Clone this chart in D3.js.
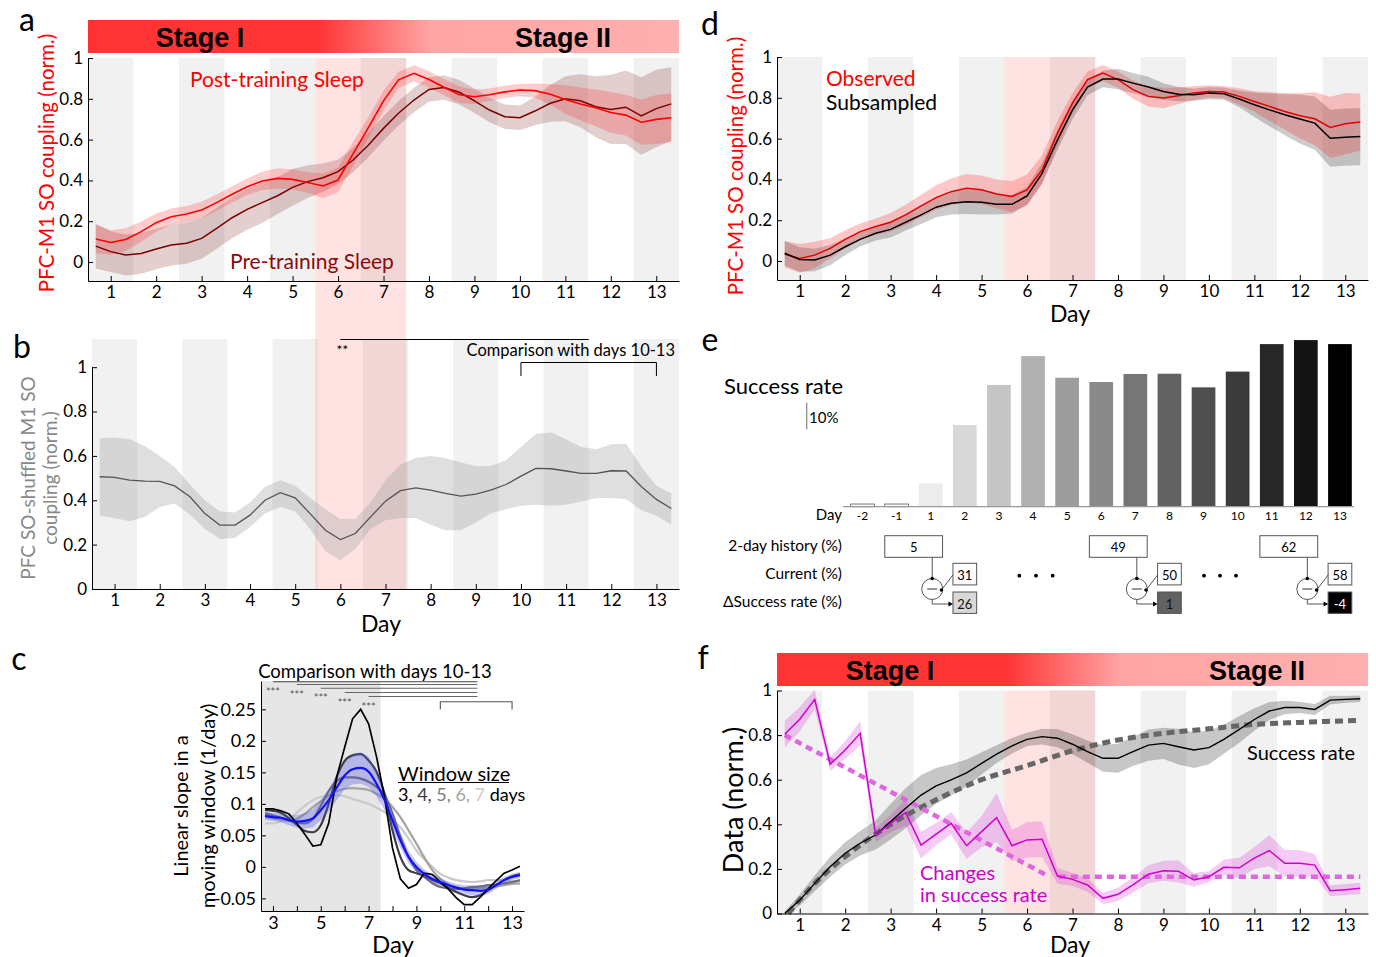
<!DOCTYPE html>
<html><head><meta charset="utf-8">
<script src="https://cdn.jsdelivr.net/npm/d3@7"></script>
<style>body{margin:0;background:#fff}svg{display:block}</style>
</head><body>
<svg id="fig" width="1376" height="957"></svg>
<script>
// ---------------- DATA ----------------
const dayGrid = [0.67,1,1.33,1.67,2,2.33,2.67,3,3.33,3.67,4,4.33,4.67,5,5.33,5.67,6,6.33,6.67,7,7.33,7.67,8,8.33,8.67,9,9.33,9.67,10,10.33,10.67,11,11.33,11.67,12,12.33,12.67,13,13.33];
const dayTicks = [1,2,3,4,5,6,7,8,9,10,11,12,13];
const shadedDays = [1,3,5,7,9,11,13];
const couplingTicks = [0,0.2,0.4,0.6,0.8,1];

// panel a
const aPost = [0.113,0.096,0.11,0.149,0.193,0.222,0.235,0.255,0.291,0.332,0.369,0.397,0.41,0.405,0.39,0.373,0.402,0.53,0.66,0.79,0.893,0.925,0.895,0.857,0.82,0.81,0.82,0.834,0.843,0.84,0.822,0.797,0.775,0.756,0.733,0.72,0.685,0.699,0.707];
const aPostErr = [0.07,0.06,0.055,0.05,0.045,0.04,0.04,0.04,0.04,0.04,0.04,0.045,0.05,0.05,0.05,0.06,0.06,0.06,0.05,0.05,0.04,0.04,0.04,0.04,0.04,0.035,0.03,0.03,0.03,0.035,0.05,0.07,0.08,0.09,0.1,0.1,0.11,0.12,0.12];
const aPre = [0.078,0.051,0.034,0.042,0.064,0.083,0.092,0.116,0.165,0.217,0.258,0.291,0.325,0.366,0.394,0.413,0.443,0.50,0.574,0.655,0.729,0.794,0.846,0.855,0.832,0.79,0.745,0.712,0.707,0.74,0.778,0.8,0.79,0.761,0.748,0.759,0.716,0.752,0.775];
const aPreErr = [0.11,0.1,0.1,0.1,0.1,0.1,0.1,0.1,0.1,0.1,0.1,0.1,0.09,0.09,0.08,0.07,0.06,0.06,0.06,0.06,0.06,0.06,0.06,0.06,0.06,0.06,0.06,0.06,0.06,0.07,0.09,0.11,0.13,0.15,0.17,0.18,0.19,0.19,0.18];

// panel b
const bMean = [0.506,0.503,0.491,0.486,0.485,0.465,0.416,0.34,0.288,0.288,0.333,0.40,0.434,0.411,0.34,0.265,0.223,0.25,0.325,0.396,0.443,0.456,0.446,0.431,0.419,0.428,0.446,0.471,0.509,0.544,0.542,0.532,0.521,0.521,0.533,0.532,0.461,0.404,0.363];
const bHi = [0.68,0.683,0.675,0.645,0.60,0.55,0.47,0.40,0.35,0.345,0.39,0.46,0.49,0.465,0.41,0.36,0.315,0.315,0.39,0.49,0.56,0.59,0.60,0.59,0.57,0.555,0.555,0.58,0.64,0.70,0.705,0.675,0.64,0.63,0.652,0.655,0.55,0.465,0.43];
const bLo = [0.33,0.32,0.305,0.325,0.37,0.385,0.335,0.27,0.225,0.23,0.28,0.34,0.37,0.35,0.27,0.17,0.13,0.18,0.27,0.31,0.32,0.32,0.29,0.265,0.265,0.30,0.34,0.36,0.375,0.38,0.375,0.38,0.395,0.41,0.41,0.405,0.355,0.33,0.29];

// panel c
const cDays = [2.67,3,3.33,3.67,4,4.33,4.67,5,5.33,5.67,6,6.33,6.67,7,7.33,7.67,8,8.33,8.67,9,9.33,9.67,10,10.33,10.67,11,11.33,11.67,12,12.33,12.67,13,13.33];
const cWin3 = [0.092,0.092,0.089,0.084,0.069,0.052,0.033,0.035,0.069,0.143,0.19,0.235,0.25,0.227,0.175,0.11,0.03,-0.019,-0.034,-0.028,-0.01,-0.012,-0.024,-0.035,-0.049,-0.06,-0.06,-0.048,-0.035,-0.022,-0.01,-0.005,0.001];
const cWin4 = [0.09,0.089,0.086,0.077,0.067,0.057,0.055,0.066,0.1,0.143,0.168,0.177,0.179,0.169,0.151,0.116,0.058,0.016,-0.005,-0.01,-0.014,-0.021,-0.026,-0.033,-0.04,-0.045,-0.048,-0.045,-0.037,-0.029,-0.021,-0.015,-0.012];
const cWin5 = [0.085,0.082,0.078,0.074,0.07,0.069,0.076,0.097,0.12,0.136,0.142,0.142,0.14,0.135,0.127,0.114,0.085,0.048,0.016,-0.005,-0.016,-0.026,-0.032,-0.034,-0.035,-0.034,-0.032,-0.031,-0.029,-0.028,-0.026,-0.024,-0.021];
const cWin6 = [0.079,0.077,0.075,0.073,0.076,0.084,0.095,0.104,0.113,0.12,0.124,0.125,0.124,0.122,0.116,0.108,0.095,0.079,0.058,0.037,0.015,-0.005,-0.019,-0.027,-0.032,-0.034,-0.034,-0.034,-0.033,-0.031,-0.029,-0.027,-0.026];
const cWin7 = [0.069,0.069,0.072,0.077,0.086,0.097,0.106,0.111,0.113,0.114,0.112,0.108,0.104,0.1,0.094,0.087,0.076,0.063,0.045,0.026,0.012,0.0,-0.011,-0.017,-0.021,-0.023,-0.024,-0.023,-0.021,-0.021,-0.021,-0.022,-0.023];
const cMean = [0.081,0.079,0.078,0.074,0.072,0.073,0.077,0.09,0.106,0.126,0.145,0.155,0.157,0.151,0.132,0.106,0.074,0.042,0.016,0.0,-0.011,-0.019,-0.024,-0.029,-0.033,-0.036,-0.037,-0.038,-0.036,-0.029,-0.021,-0.016,-0.013];
const cErr = [0.006,0.006,0.007,0.008,0.01,0.012,0.014,0.016,0.018,0.02,0.022,0.024,0.025,0.024,0.02,0.016,0.014,0.012,0.01,0.008,0.007,0.006,0.006,0.006,0.006,0.007,0.008,0.008,0.007,0.006,0.005,0.005,0.005];
const cWindowSizes = [3,4,5,6,7];
const cTicksY = [-0.05,0,0.05,0.1,0.15,0.2,0.25];
const cStarDays = [3,4,5,6,7];

// panel d
const dObs = [0.033,0.013,0.029,0.062,0.106,0.144,0.169,0.19,0.226,0.27,0.311,0.34,0.357,0.349,0.329,0.316,0.349,0.447,0.627,0.774,0.889,0.921,0.889,0.84,0.807,0.799,0.81,0.823,0.831,0.828,0.807,0.782,0.758,0.733,0.712,0.697,0.655,0.673,0.681];
const dObsErr = [0.065,0.07,0.065,0.05,0.045,0.04,0.04,0.045,0.05,0.055,0.06,0.065,0.07,0.07,0.07,0.075,0.075,0.07,0.06,0.05,0.04,0.04,0.04,0.045,0.05,0.05,0.04,0.035,0.03,0.03,0.04,0.05,0.07,0.09,0.11,0.13,0.15,0.15,0.14];
const dSub = [0.038,0.008,0.005,0.029,0.07,0.106,0.136,0.155,0.19,0.226,0.264,0.283,0.291,0.288,0.278,0.278,0.319,0.43,0.594,0.741,0.853,0.892,0.892,0.872,0.853,0.831,0.818,0.815,0.823,0.82,0.794,0.766,0.741,0.717,0.696,0.676,0.602,0.607,0.61];
const dSubErr = [0.06,0.06,0.055,0.05,0.04,0.035,0.035,0.04,0.04,0.045,0.05,0.055,0.06,0.06,0.05,0.045,0.045,0.05,0.05,0.045,0.04,0.04,0.05,0.05,0.05,0.04,0.035,0.03,0.03,0.03,0.04,0.06,0.08,0.1,0.12,0.13,0.14,0.14,0.14];

// panel e
const eDays = ['-2','-1','1','2','3','4','5','6','7','8','9','10','11','12','13'];
const eRates = [1.0,1.0,8.7,30.6,45.6,56.4,48.3,46.7,49.7,49.8,44.7,50.6,60.9,62.4,60.9];
const eRowLabels = ['2-day history (%)','Current (%)','\u0394Success rate (%)'];
const eHistDays = [['-1','1'],['6','7'],['11','12']];
const eCurDays = ['2','8','13'];
const eHistVals = [5,49,62];
const eCurVals = [31,50,58];
const eDeltaVals = [26,1,-4];

// panel f
const fSuccess = [0.0,0.06,0.135,0.21,0.27,0.315,0.352,0.412,0.472,0.531,0.572,0.599,0.631,0.673,0.715,0.752,0.781,0.793,0.786,0.759,0.726,0.696,0.696,0.726,0.755,0.763,0.748,0.733,0.744,0.781,0.826,0.87,0.908,0.924,0.924,0.915,0.957,0.96,0.963];
const fSuccessErr = [0.01,0.025,0.035,0.045,0.05,0.055,0.065,0.08,0.09,0.09,0.08,0.07,0.06,0.05,0.04,0.035,0.03,0.035,0.04,0.045,0.05,0.06,0.065,0.065,0.07,0.07,0.08,0.08,0.075,0.065,0.06,0.05,0.04,0.03,0.025,0.025,0.02,0.015,0.015];
const fChange = [0.804,0.871,0.96,0.669,0.733,0.808,0.352,0.404,0.452,0.307,0.356,0.404,0.304,0.367,0.43,0.304,0.33,0.333,0.168,0.153,0.128,0.068,0.086,0.128,0.176,0.192,0.189,0.15,0.165,0.207,0.205,0.248,0.282,0.225,0.225,0.217,0.102,0.107,0.113];
const fChangeErr = [0.06,0.055,0.045,0.03,0.04,0.055,0.03,0.04,0.06,0.06,0.05,0.05,0.06,0.07,0.11,0.07,0.08,0.08,0.035,0.03,0.03,0.025,0.03,0.035,0.04,0.045,0.05,0.03,0.025,0.035,0.045,0.05,0.07,0.06,0.06,0.05,0.025,0.025,0.025];
const fFitDays = [0.75,1.33,2,3,4,5,6,7,8,9,10,11,12,13.33];
const fFitSuccess = [0.0,0.135,0.255,0.40,0.51,0.6,0.663,0.73,0.778,0.808,0.828,0.848,0.857,0.866];
const fFitChangeDays = [[0.67,6.4],[6.7,13.33]];
const fFitChangeVals = [[0.80,0.175],[0.165,0.165]];

// ---------------- DRAW ----------------
const FONT = 'Lato, "Open Sans", "DejaVu Sans", sans-serif';
const svg = d3.select('#fig').attr('font-family', FONT);
const defs = svg.append('defs');
const grad = defs.append('linearGradient').attr('id','stageGrad').attr('x1','0%').attr('x2','100%');
[['0%','#ff3333'],['39%','#ff3535'],['58%','#ffa4a4'],['100%','#ffb0b0']].forEach(s=>grad.append('stop').attr('offset',s[0]).attr('stop-color',s[1]));

function txt(g, x, y, s, o={}) {
  const t = g.append('text').attr('x',x).attr('y',y).text(s)
    .attr('font-size', o.size||16).attr('fill', o.color||'#000')
    .attr('text-anchor', o.anchor||'start').attr('dominant-baseline', o.base||'central');
  if (o.weight) t.attr('font-weight', o.weight);
  if (o.family) t.attr('font-family', o.family);
  if (o.rotate) t.attr('transform', `rotate(-90,${x},${y})`);
  return t;
}
function drawBands(g, x, yTop, yBot, days, color) {
  g.selectAll(null).data(days).join('rect')
    .attr('x', d=>x(d-0.5)).attr('width', d=>x(d+0.5)-x(d-0.5))
    .attr('y', yTop).attr('height', yBot-yTop).attr('fill', color);
}
function drawArea(g, x, y, xs, lo, hi, fill, op) {
  const data = xs.map((d,i)=>({d, lo:lo[i], hi:hi[i]}));
  g.append('path').datum(data)
   .attr('d', d3.area().x(p=>x(p.d)).y0(p=>y(p.lo)).y1(p=>y(p.hi)))
   .attr('fill', fill).attr('fill-opacity', op).attr('stroke','none');
}
function drawLine(g, x, y, xs, vs, color, w, dash, curve) {
  const data = xs.map((d,i)=>({d, v:vs[i]}));
  const p = g.append('path').datum(data)
   .attr('d', d3.line().x(p=>x(p.d)).y(p=>y(p.v)).curve(curve||d3.curveLinear))
   .attr('fill','none').attr('stroke', color).attr('stroke-width', w);
  if (dash) p.attr('stroke-dasharray', dash);
  return p;
}
function styleAxis(sel, fs) {
  sel.attr('font-family', FONT);
  sel.selectAll('text').attr('font-size', fs).attr('fill','#000');
  sel.selectAll('line').attr('stroke','#000');
  sel.select('.domain').attr('stroke','#000');
}
function xAxis(g, x, yPos, ticks, fs, fmt) {
  const a = g.append('g').attr('transform',`translate(0,${yPos})`)
    .call(d3.axisBottom(x).tickValues(ticks).tickSize(-5).tickSizeOuter(0).tickPadding(5).tickFormat(fmt||(d=>d)));
  styleAxis(a, fs);
  return a;
}
function yAxis(g, y, xPos, ticks, fs) {
  const a = g.append('g').attr('transform',`translate(${xPos},0)`)
    .call(d3.axisLeft(y).tickValues(ticks).tickSize(-5).tickSizeOuter(0).tickPadding(5).tickFormat(d=>String(d)));
  styleAxis(a, fs);
  return a;
}
const lo = (m,e)=>m.map((v,i)=>v-e[i]);
const hi = (m,e)=>m.map((v,i)=>v+e[i]);
function stageBar(g, x0, x1, y0, y1, c1, c2) {
  g.append('rect').attr('x',x0).attr('y',y0).attr('width',x1-x0).attr('height',y1-y0).attr('fill','url(#stageGrad)');
  const fam = '"Liberation Sans", Arial, sans-serif';
  txt(g, c1, (y0+y1)/2+1, 'Stage I', {size:27, weight:'bold', anchor:'middle', family:fam});
  txt(g, c2, (y0+y1)/2+1, 'Stage II', {size:27, weight:'bold', anchor:'middle', family:fam});
}

// ===== Panel a + b =====
const gA = svg.append('g');
const ax = d3.scaleLinear().domain([0.5,13.5]).range([88,679]);
const ay = d3.scaleLinear().domain([-0.093,1]).range([281,58]);
const bx = d3.scaleLinear().domain([0.5,13.5]).range([92,679]);
const by = d3.scaleLinear().domain([0,1.127]).range([589,339]);
const byAxis = d3.scaleLinear().domain([0,1]).range([589, by(1)]);

drawBands(gA, ax, ay(1), ay.range()[0], shadedDays, '#f1f1f1');
drawBands(gA, bx, by(1.127), 589, shadedDays, '#f1f1f1');
gA.append('rect').attr('x', ax(5.5)).attr('width', ax(7.5)-ax(5.5)).attr('y', ay(1)).attr('height', 589-ay(1))
  .attr('fill','#ff0000').attr('fill-opacity',0.11);

stageBar(gA, 88, 679, 20, 53, 200, 563);
drawArea(gA, ax, ay, dayGrid, lo(aPre,aPreErr), hi(aPre,aPreErr), '#7a1010', 0.2);
drawArea(gA, ax, ay, dayGrid, lo(aPost,aPostErr), hi(aPost,aPostErr), '#ff1a1a', 0.22);
drawLine(gA, ax, ay, dayGrid, aPre, '#7a0000', 1.5);
drawLine(gA, ax, ay, dayGrid, aPost, '#ff0000', 1.6);
xAxis(gA, ax, 281, dayTicks, 17);
yAxis(gA, ay, 88, couplingTicks, 17);
txt(gA, 190, 78, 'Post-training Sleep', {size:21, color:'#ff0000'});
txt(gA, 230, 260, 'Pre-training Sleep', {size:21, color:'#8a0a0a'});
txt(gA, 46, 163, 'PFC-M1 SO coupling (norm.)', {size:20.5, color:'#ff0000', anchor:'middle', rotate:true});
txt(gA, 19, 18, 'a', {size:32});

// b
drawArea(gA, bx, by, dayGrid, bLo, bHi, '#9a9a9a', 0.32);
drawLine(gA, bx, by, dayGrid, bMean, '#555', 1.3);
xAxis(gA, bx, 589, dayTicks, 17);
yAxis(gA, byAxis, 92, couplingTicks, 17);
txt(gA, 27, 478, 'PFC SO-shuffled M1 SO', {size:19, color:'#888', anchor:'middle', rotate:true});
txt(gA, 49, 478, 'coupling (norm.)', {size:19, color:'#888', anchor:'middle', rotate:true});
txt(gA, 381, 623, 'Day', {size:23, anchor:'middle'});
txt(gA, 22, 345, 'b', {size:32, anchor:'middle'});
gA.append('line').attr('x1', bx(6)).attr('x2', bx(11.5)).attr('y1',339.5).attr('y2',339.5).attr('stroke','#000');
txt(gA, bx(6)+2, 349, '**', {size:14, anchor:'middle'});
txt(gA, 675, 350, 'Comparison with days 10-13', {size:16.5, anchor:'end'});
gA.append('path').attr('d', `M${bx(10)},376V362.5H${bx(13)}V376`).attr('fill','none').attr('stroke','#000');

// ===== Panel c =====
const gC = svg.append('g');
const cx = d3.scaleLinear().domain([2.5,13.5]).range([261,524]);
const cy = d3.scaleLinear().domain([-0.07,0.295]).range([911,681]);
gC.append('rect').attr('x', cx(2.5)).attr('y', cy(0.295)).attr('width', cx(7.5)-cx(2.5)).attr('height', cy(-0.07)-cy(0.295)).attr('fill','#e6e6e6');
const winColors = ['#000000','#3c3c3c','#6e6e6e','#a4a4a4','#cacaca'];
const winSeries = [cWin3,cWin4,cWin5,cWin6,cWin7];
for (let i=4;i>=1;i--) drawLine(gC, cx, cy, cDays, winSeries[i], winColors[i], 2.2, null, d3.curveMonotoneX);
drawArea(gC, cx, cy, cDays, lo(cMean,cErr), hi(cMean,cErr), '#5a5ae6', 0.35);
drawLine(gC, cx, cy, cDays, winSeries[0], winColors[0], 1.7);
drawLine(gC, cx, cy, cDays, cMean, '#1010ff', 2.2, null, d3.curveMonotoneX);
xAxis(gC, cx, 911, d3.range(3,14), 18, d=> d%2 ? d : '');
yAxis(gC, cy, 261, cTicksY, 18);
txt(gC, 375, 671, 'Comparison with days 10-13', {size:18.5, anchor:'middle'});
const cLineY = [681.7, 684.5, 688.3, 692.5, 696.5];
cStarDays.forEach((d,i)=>{
  gC.append('line').attr('x1', cx(d)).attr('x2', cx(11.55)).attr('y1', cLineY[i]).attr('y2', cLineY[i]).attr('stroke', i===0?'#444':'#666').attr('stroke-width',1.1);
  txt(gC, cx(d), cLineY[i]+9.5, '***', {size:11, color:'#555', anchor:'middle'});
});
gC.append('path').attr('d', `M${cx(10)},709.5V701.7H${cx(13)}V709.5`).attr('fill','none').attr('stroke','#555').attr('stroke-width',1.1);
txt(gC, 398, 773, 'Window size', {size:20});
gC.append('line').attr('x1',398).attr('x2',509).attr('y1',782.5).attr('y2',782.5).attr('stroke','#000').attr('stroke-width',1.2);
const wt = txt(gC, 398, 794, '', {size:18});
const legendCols = ['#000','#3c3c3c','#808080','#a8a8a8','#cccccc'];
cWindowSizes.forEach((w,i)=>{ wt.append('tspan').attr('fill', legendCols[i]).text(w + (i<4?', ':' ')); });
wt.append('tspan').attr('fill','#000').text('days');
txt(gC, 180, 806, 'Linear slope in a', {size:20, anchor:'middle', rotate:true});
txt(gC, 207, 806, 'moving window (1/day)', {size:20, anchor:'middle', rotate:true});
txt(gC, 393, 943, 'Day', {size:24, anchor:'middle'});
txt(gC, 19, 657, 'c', {size:32, anchor:'middle'});

// ===== Panel d =====
const gD = svg.append('g');
const dx = d3.scaleLinear().domain([0.5,13.5]).range([777,1368]);
const dy = d3.scaleLinear().domain([-0.093,1]).range([280,57]);
drawBands(gD, dx, dy(1), 280, shadedDays, '#f1f1f1');
gD.append('rect').attr('x', dx(5.5)).attr('width', dx(7.5)-dx(5.5)).attr('y', dy(1)).attr('height', 280-dy(1)).attr('fill','#ff0000').attr('fill-opacity',0.11);
drawArea(gD, dx, dy, dayGrid, lo(dSub,dSubErr), hi(dSub,dSubErr), '#000', 0.2);
drawArea(gD, dx, dy, dayGrid, lo(dObs,dObsErr), hi(dObs,dObsErr), '#ff1a1a', 0.24);
drawLine(gD, dx, dy, dayGrid, dObs, '#e00000', 1.5);
drawLine(gD, dx, dy, dayGrid, dSub, '#000', 1.5);
xAxis(gD, dx, 280, dayTicks, 17);
yAxis(gD, dy, 777, couplingTicks, 17);
txt(gD, 826, 77, 'Observed', {size:21, color:'#ff0000'});
txt(gD, 826, 101, 'Subsampled', {size:21});
txt(gD, 735, 166, 'PFC-M1 SO coupling (norm.)', {size:20.5, color:'#ff0000', anchor:'middle', rotate:true});
txt(gD, 1070, 313, 'Day', {size:23, anchor:'middle'});
txt(gD, 710, 22, 'd', {size:32, anchor:'middle'});

// ===== Panel e =====
const gE = svg.append('g');
const eX = d3.scaleBand().domain(eDays).range([845.45,1357]).paddingInner(0.305).paddingOuter(0.1525);
const eY = d3.scaleLinear().domain([0,100]).range([506.7, 506.7-267]);
const eGray = d => { const n=+d; if (n<0) return '#ffffff'; const g=Math.round(236*(13-n)/12); return `rgb(${g},${g},${g})`; };
gE.selectAll(null).data(eDays).join('rect')
  .attr('x', d=>eX(d)).attr('width', eX.bandwidth())
  .attr('y', (d,i)=>eY(eRates[i])).attr('height', (d,i)=>eY(0)-eY(eRates[i]))
  .attr('fill', d=>eGray(d)).attr('stroke', d=> +d<0 ? '#555' : 'none').attr('stroke-width',0.8);
gE.append('line').attr('x1',843).attr('x2',1354).attr('y1',eY(0)).attr('y2',eY(0)).attr('stroke','#999').attr('stroke-width',1.3);
gE.selectAll(null).data(eDays).join('text')
  .attr('x', d=>eX(d)+eX.bandwidth()/2).attr('y', 515).attr('text-anchor','middle').attr('dominant-baseline','central')
  .attr('font-size',12).text(d=>d);
txt(gE, 842, 514, 'Day', {size:15, anchor:'end'});
txt(gE, 843, 385, 'Success rate', {size:22, anchor:'end'});
gE.append('line').attr('x1',806.7).attr('x2',806.7).attr('y1',429.5).attr('y2',429.5-(eY(0)-eY(10))).attr('stroke','#888').attr('stroke-width',1.2);
txt(gE, 809, 417, '10%', {size:15});
txt(gE, 710, 338, 'e', {size:32, anchor:'middle'});
const rowY = [545, 573, 601];
eRowLabels.forEach((l,i)=>txt(gE, 842, rowY[i], l, {size:15.5, anchor:'end'}));
eHistDays.forEach((hd,k)=>{
  const hx0 = eX(hd[0]), hx1 = eX(hd[1])+eX.bandwidth();
  const cxb = eX(eCurDays[k]), bw = eX.bandwidth();
  gE.append('rect').attr('x',hx0).attr('y',535.7).attr('width',hx1-hx0).attr('height',21.6).attr('fill','#fff').attr('stroke','#555');
  txt(gE, (hx0+hx1)/2, 547, eHistVals[k], {size:13, anchor:'middle'});
  gE.append('rect').attr('x',cxb).attr('y',563.3).attr('width',bw).attr('height',21.6).attr('fill','#fff').attr('stroke','#555');
  txt(gE, cxb+bw/2, 575, eCurVals[k], {size:13, anchor:'middle'});
  const fillC = eGray(eCurDays[k]);
  gE.append('rect').attr('x',cxb).attr('y',592).attr('width',bw).attr('height',21.4).attr('fill',fillC).attr('stroke','#555');
  const lum = d3.rgb(fillC).r;
  txt(gE, cxb+bw/2, 603.5, eDeltaVals[k], {size:13, anchor:'middle', color: lum<40?'#fff':'#111'});
  const ccx = eX(hd[1])+bw/2+1.5, ccy = 589, r = 10.5;
  gE.append('line').attr('x1',ccx).attr('x2',ccx).attr('y1',557.3).attr('y2',ccy-r).attr('stroke','#555');
  gE.append('circle').attr('cx',ccx).attr('cy',ccy).attr('r',r).attr('fill','#fff').attr('stroke','#555');
  gE.append('circle').attr('cx',ccx).attr('cy',ccy-r).attr('r',1.8).attr('fill','#000');
  const px = ccx + r*Math.cos(-0.5), py = ccy - r*Math.sin(-0.5) - 4;
  gE.append('line').attr('x1',px).attr('y1',py).attr('x2',cxb).attr('y2',575).attr('stroke','#555');
  gE.append('circle').attr('cx',px).attr('cy',py).attr('r',1.8).attr('fill','#000');
  gE.append('line').attr('x1',ccx-5).attr('x2',ccx+5).attr('y1',ccy).attr('y2',ccy).attr('stroke','#333');
  gE.append('path').attr('d',`M${ccx},${ccy+r}V604H${cxb-4}`).attr('fill','none').attr('stroke','#555');
  gE.append('path').attr('d',`M${cxb},604l-4.5,-2.5v5z`).attr('fill','#000');
});
[[1019.3,1036,1052.7],[1204,1220,1236]].forEach(arr=>arr.forEach(x=>gE.append('circle').attr('cx',x).attr('cy',575.7).attr('r',1.9).attr('fill','#000')));

// ===== Panel f =====
const gF = svg.append('g');
const fx = d3.scaleLinear().domain([0.5,13.5]).range([777,1368]);
const fy = d3.scaleLinear().domain([0,1]).range([913.5,690.5]);
drawBands(gF, fx, fy(1), fy(0), shadedDays, '#f1f1f1');
gF.append('rect').attr('x', fx(5.5)).attr('width', fx(7.5)-fx(5.5)).attr('y', fy(1)).attr('height', fy(0)-fy(1)).attr('fill','#ff0000').attr('fill-opacity',0.11);
stageBar(gF, 777, 1368, 653, 686, 890, 1257);
drawArea(gF, fx, fy, dayGrid, lo(fSuccess,fSuccessErr), hi(fSuccess,fSuccessErr), '#000', 0.22);
drawArea(gF, fx, fy, dayGrid, lo(fChange,fChangeErr), hi(fChange,fChangeErr), '#d000d0', 0.2);
drawLine(gF, fx, fy, fFitDays, fFitSuccess, '#666', 5, '8,5', d3.curveMonotoneX);
fFitChangeDays.forEach((seg,i)=>drawLine(gF, fx, fy, seg, fFitChangeVals[i], '#e066e0', 4.5, '7,5'));
drawLine(gF, fx, fy, dayGrid, fSuccess, '#000', 1.4);
drawLine(gF, fx, fy, dayGrid, fChange, '#d000d0', 1.5);
xAxis(gF, fx, 913.5, dayTicks, 17);
yAxis(gF, fy, 777, couplingTicks, 17);
txt(gF, 1247, 752, 'Success rate', {size:20});
txt(gF, 920, 872, 'Changes', {size:20, color:'#d000d0'});
txt(gF, 920, 894, 'in success rate', {size:20, color:'#d000d0'});
txt(gF, 732, 800, 'Data (norm.)', {size:27, anchor:'middle', rotate:true});
txt(gF, 1070, 944, 'Day', {size:23, anchor:'middle'});
txt(gF, 703, 656, 'f', {size:32, anchor:'middle'});
</script>
</body></html>
